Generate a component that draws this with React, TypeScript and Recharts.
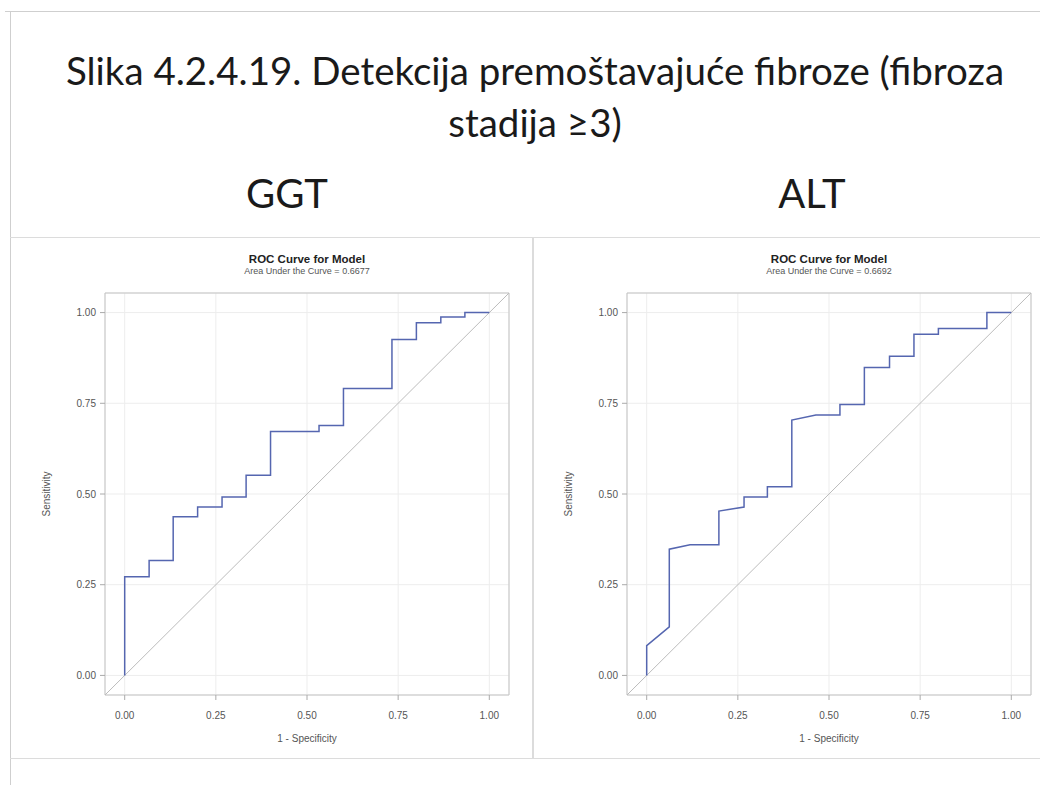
import React from "react";
import { LineChart, Line, XAxis, YAxis, CartesianGrid, ReferenceArea } from "recharts";

// ROC vertices (1 - specificity, sensitivity)
const ggtFpr = [0, 0, 0.067, 0.067, 0.133, 0.133, 0.2, 0.2, 0.267, 0.267, 0.333, 0.333, 0.4, 0.4, 0.533, 0.533, 0.6, 0.6, 0.733, 0.733, 0.8, 0.8, 0.867, 0.867, 0.933, 0.933, 1];
const ggtTpr = [0, 0.272, 0.272, 0.317, 0.317, 0.437, 0.437, 0.464, 0.464, 0.492, 0.492, 0.552, 0.552, 0.672, 0.672, 0.689, 0.689, 0.791, 0.791, 0.926, 0.926, 0.972, 0.972, 0.988, 0.988, 1, 1];

const altFpr = [0, 0, 0.062, 0.062, 0.119, 0.198, 0.198, 0.267, 0.267, 0.331, 0.331, 0.398, 0.398, 0.464, 0.53, 0.53, 0.597, 0.597, 0.666, 0.666, 0.733, 0.733, 0.8, 0.8, 0.933, 0.933, 1];
const altTpr = [0, 0.082, 0.134, 0.348, 0.36, 0.36, 0.453, 0.464, 0.492, 0.492, 0.52, 0.52, 0.704, 0.718, 0.718, 0.747, 0.747, 0.849, 0.849, 0.88, 0.88, 0.94, 0.94, 0.956, 0.956, 1, 1];

const axisTicks = [0, 0.25, 0.5, 0.75, 1];
const PAD = 0.054;
const LO = -PAD;
const HI = 1 + PAD;

const SAS_FONT = "'Liberation Sans', Arial, sans-serif";
const SLIDE_FONT = "Lato, 'Open Sans', sans-serif";

const toPoints = (xs: number[], ys: number[]) => xs.map((x, i) => ({ x, y: ys[i] }));
const diagonal = [{ x: LO, y: LO }, { x: HI, y: HI }];
const fmt = (v: number) => v.toFixed(2);

function YLabel({ viewBox }: any) {
  const cx = viewBox.x + 36;
  const cy = viewBox.y + viewBox.height / 2;
  return (
    <text x={cx} y={cy} transform={`rotate(-90 ${cx} ${cy})`} textAnchor="middle" dominantBaseline="central"
      fontSize={10} fill="#555" fontFamily={SAS_FONT}>Sensitivity</text>
  );
}

function XLabel({ viewBox }: any) {
  const cx = viewBox.x + viewBox.width / 2;
  return (
    <text x={cx} y={viewBox.y + 47} textAnchor="middle" fontSize={10} fill="#555" fontFamily={SAS_FONT}>1 - Specificity</text>
  );
}

function RocPanel({ left, xs, ys, auc }: { left: number; xs: number[]; ys: number[]; auc: string }) {
  const pts = toPoints(xs, ys);
  return (
    <div style={{ position: "absolute", left, top: 237, width: 522, height: 521 }}>
      <div style={{ position: "absolute", left: 95, width: 404, top: 16, textAlign: "center", fontFamily: SAS_FONT, color: "#222" }}>
        <div style={{ fontSize: 11.5, fontWeight: "bold", lineHeight: "13px" }}>ROC Curve for Model</div>
        <div style={{ fontSize: 9, color: "#555", lineHeight: "11px" }}>Area Under the Curve = {auc}</div>
      </div>
      <LineChart width={522} height={521} margin={{ top: 56, right: 23, bottom: 20, left: 0 }}>
        <CartesianGrid stroke="#ededed" />
        <XAxis type="number" dataKey="x" domain={[LO, HI]} ticks={axisTicks} tickFormatter={fmt} allowDataOverflow
          axisLine={false} tickLine={{ stroke: "#aaa" }} tickSize={5} tickMargin={12} height={43}
          tick={{ fontSize: 10, fill: "#555", fontFamily: SAS_FONT }} label={<XLabel />} />
        <YAxis type="number" dataKey="y" domain={[LO, HI]} ticks={axisTicks} tickFormatter={fmt} allowDataOverflow
          axisLine={false} tickLine={{ stroke: "#aaa" }} tickSize={5} tickMargin={4} width={95}
          tick={{ fontSize: 10, fill: "#555", fontFamily: SAS_FONT }} label={<YLabel />} />
        <ReferenceArea x1={LO} x2={HI} y1={LO} y2={HI} fill="none" stroke="#c4c4c4" ifOverflow="visible" />
        <Line data={diagonal} dataKey="y" stroke="#bcbcbc" strokeWidth={1} dot={false} isAnimationActive={false} />
        <Line data={pts} dataKey="y" stroke="#5566b0" strokeWidth={1.5} dot={false} isAnimationActive={false} />
      </LineChart>
    </div>
  );
}

export default function App() {
  const line = (style: React.CSSProperties) => <div style={{ position: "absolute", background: "#cfcfcf", ...style }} />;
  return (
    <div style={{ position: "absolute", left: 0, top: 0, width: 1040, height: 785, background: "#fff", overflow: "hidden" }}>
      {line({ left: 5, top: 11, width: 1035, height: 1 })}
      {line({ left: 10, top: 11, width: 1, height: 774 })}
      {line({ left: 10, top: 237, width: 1030, height: 1, background: "#dcdcdc" })}
      {line({ left: 10, top: 758, width: 1030, height: 1, background: "#dcdcdc" })}
      {line({ left: 532, top: 237, width: 2, height: 521, background: "#dcdcdc" })}

      <div style={{ position: "absolute", left: 535, top: 44, transform: "translateX(-50%)", whiteSpace: "nowrap",
        fontFamily: SLIDE_FONT, fontSize: 38.5, color: "#1a1a1a", lineHeight: "52px", textAlign: "center" }}>
        <div>Slika 4.2.4.19. Detekcija premoštavajuće fibroze (fibroza</div>
        <div>stadija ≥3)</div>
      </div>
      <div style={{ position: "absolute", left: 287, top: 170, transform: "translateX(-50%)", fontFamily: SLIDE_FONT, fontSize: 40, color: "#1a1a1a", lineHeight: "46px" }}>GGT</div>
      <div style={{ position: "absolute", left: 812, top: 170, transform: "translateX(-50%)", fontFamily: SLIDE_FONT, fontSize: 40, color: "#1a1a1a", lineHeight: "46px" }}>ALT</div>

      <RocPanel left={10} xs={ggtFpr} ys={ggtTpr} auc="0.6677" />
      <RocPanel left={532} xs={altFpr} ys={altTpr} auc="0.6692" />
    </div>
  );
}
